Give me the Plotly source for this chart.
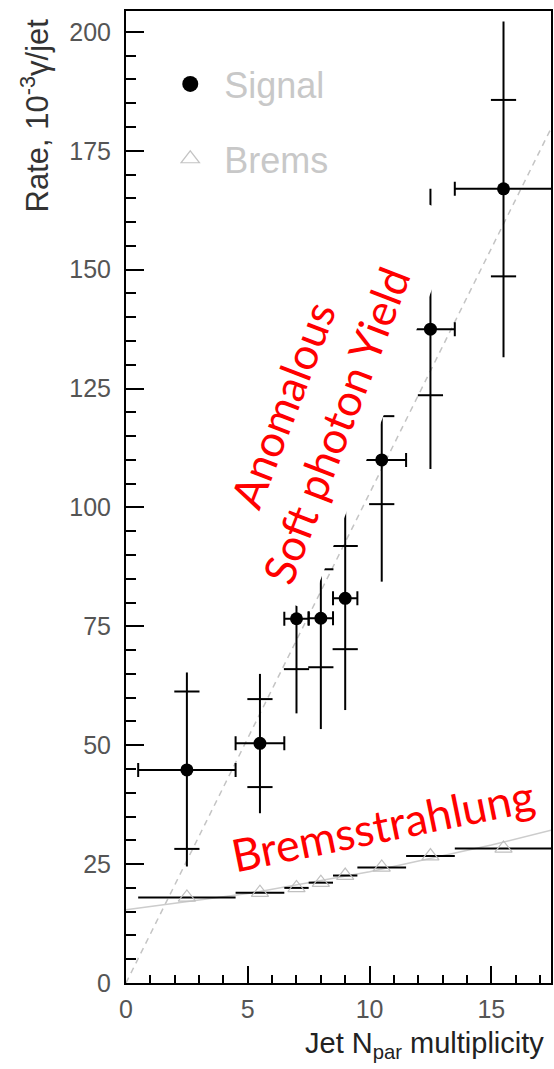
import plotly.graph_objects as go

# ---------------- data ----------------
bin_center = [2.5, 5.5, 7, 8, 9, 10.5, 12.5, 15.5]
bin_halfwidth = [2, 1, 0.5, 0.5, 0.5, 1, 1, 2]

signal_rate = [44.8, 50.4, 76.6, 76.7, 80.9, 110.0, 137.5, 167.0]
signal_total_hi = [65.3, 65.0, 80.2, 90.0, 101.2, 121.6, 167.0, 202.2]
signal_total_lo = [24.5, 35.7, 56.7, 53.4, 57.4, 84.4, 108.1, 131.6]
signal_stat_hi = [61.3, 59.7, None, 87.0, 91.9, 119.2, None, 185.7]
signal_stat_lo = [28.2, 41.2, 66.0, 66.4, 70.2, 100.7, 123.6, 148.6]

brems_rate = [18.0, 19.0, 20.0, 21.1, 22.6, 24.3, 26.7, 28.3]

signal_fit_x = [0, 17.45]
signal_fit_y = [0, 179.7]
brems_fit_x = [0, 5, 10, 15, 17.45]
brems_fit_y = [15.4, 18.8, 23.4, 29.0, 32.1]

x_ticks = [0, 5, 10, 15]
y_ticks = [0, 25, 50, 75, 100, 125, 150, 175, 200]

# ---------------- derived ----------------
err_plus = [h - y for h, y in zip(signal_total_hi, signal_rate)]
err_minus = [y - l for l, y in zip(signal_total_lo, signal_rate)]
tick_x, tick_y = [], []
for xc, hi, lo in zip(bin_center, signal_stat_hi, signal_stat_lo):
    for v in (hi, lo):
        if v is not None:
            tick_x.append(xc)
            tick_y.append(v)

AX = "Liberation Sans"
NB = "\u00a0" * 5  # widens the white text box like the pasted label

fig = go.Figure()

# fits
fig.add_trace(go.Scatter(x=signal_fit_x, y=signal_fit_y, mode="lines",
                         line=dict(color="#c4c4c4", width=1.5, dash="6px,5px"),
                         showlegend=False, hoverinfo="skip"))
fig.add_trace(go.Scatter(x=brems_fit_x, y=brems_fit_y, mode="lines",
                         line=dict(color="#cccccc", width=1.5),
                         showlegend=False, hoverinfo="skip"))

# brems
fig.add_trace(go.Scatter(x=bin_center, y=brems_rate, mode="markers",
                         marker=dict(symbol="triangle-up-open", size=15, color="#c0c0c0",
                                     line=dict(width=1.2, color="#c0c0c0")),
                         error_x=dict(type="data", array=bin_halfwidth, thickness=2,
                                      width=0, color="black"),
                         showlegend=False))

# signal
fig.add_trace(go.Scatter(x=bin_center, y=signal_rate, mode="markers",
                         marker=dict(symbol="circle", size=13, color="black"),
                         error_x=dict(type="data", array=bin_halfwidth, thickness=2,
                                      width=7, color="black"),
                         error_y=dict(type="data", symmetric=False, array=err_plus,
                                      arrayminus=err_minus, thickness=2, width=0,
                                      color="black"),
                         showlegend=False))
fig.add_trace(go.Scatter(x=tick_x, y=tick_y, mode="markers",
                         marker=dict(symbol="line-ew", size=18,
                                     line=dict(width=2, color="black")),
                         showlegend=False, hoverinfo="skip"))

# legend entries
fig.add_trace(go.Scatter(x=[None], y=[None], mode="markers", name="Signal",
                         legendgroup="s",
                         marker=dict(symbol="circle", size=19, color="black")))
fig.add_trace(go.Scatter(x=[None], y=[None], mode="markers", name="Brems",
                         legendgroup="b",
                         marker=dict(symbol="triangle-up-open", size=18, color="#c4c4c4",
                                     line=dict(width=1.2, color="#c4c4c4"))))

axis_common = dict(showline=True, linewidth=2, linecolor="black", mirror=True,
                   ticks="inside", tickwidth=2, tickcolor="black",
                   showgrid=False, zeroline=False,
                   tickfont=dict(family=AX, size=25, color="#555555"))

fig.update_xaxes(range=[0, 17.45], tickvals=x_ticks, ticklen=17,
                 minor=dict(dtick=1, ticks="inside", ticklen=8, tickwidth=2,
                            tickcolor="black"),
                 ticklabelstandoff=3, **axis_common)
fig.update_yaxes(range=[0, 204.4], tickvals=y_ticks, ticklen=18,
                 minor=dict(dtick=5, ticks="inside", ticklen=10, tickwidth=2,
                            tickcolor="black"),
                 ticklabelstandoff=8, **axis_common)

fig.update_layout(
    width=554, height=1069,
    margin=dict(l=126, r=1, t=11, b=86),
    paper_bgcolor="white", plot_bgcolor="white",
    legend=dict(x=0.0712, y=0.9557, xanchor="left", yanchor="top",
                bgcolor="rgba(0,0,0,0)", tracegroupgap=25, itemwidth=58,
                font=dict(family=AX, size=36, color="#c8c8c8")),
    annotations=[
        dict(text="Rate, 10<sup>-3</sup>γ/jet", textangle=-90, showarrow=False,
             xref="paper", yref="paper", x=-0.213, y=0.893,
             xanchor="center", yanchor="middle",
             font=dict(family=AX, size=31, color="#333333")),
        dict(text="Jet N<sub>par</sub> multiplicity", showarrow=False,
             xref="paper", yref="paper", x=0.988, y=-0.064,
             xanchor="right", yanchor="middle",
             font=dict(family=AX, size=29, color="#222222")),
        dict(text="Anomalous" + NB + "<br>Soft photon Yield" + NB, textangle=-69,
             showarrow=False,
             xref="x", yref="y", x=7.91, y=125.1, xanchor="center", yanchor="middle",
             bgcolor="white", borderpad=15,
             font=dict(family="Lato", size=44, color="#ff0000")),
        dict(text="Bremsstrahlung", textangle=-11.5, showarrow=False,
             xref="x", yref="y", x=10.56, y=33.2, xanchor="center", yanchor="middle",
             font=dict(family="Lato", size=45, color="#ff0000")),
    ],
)

fig.write_html("out.html")
